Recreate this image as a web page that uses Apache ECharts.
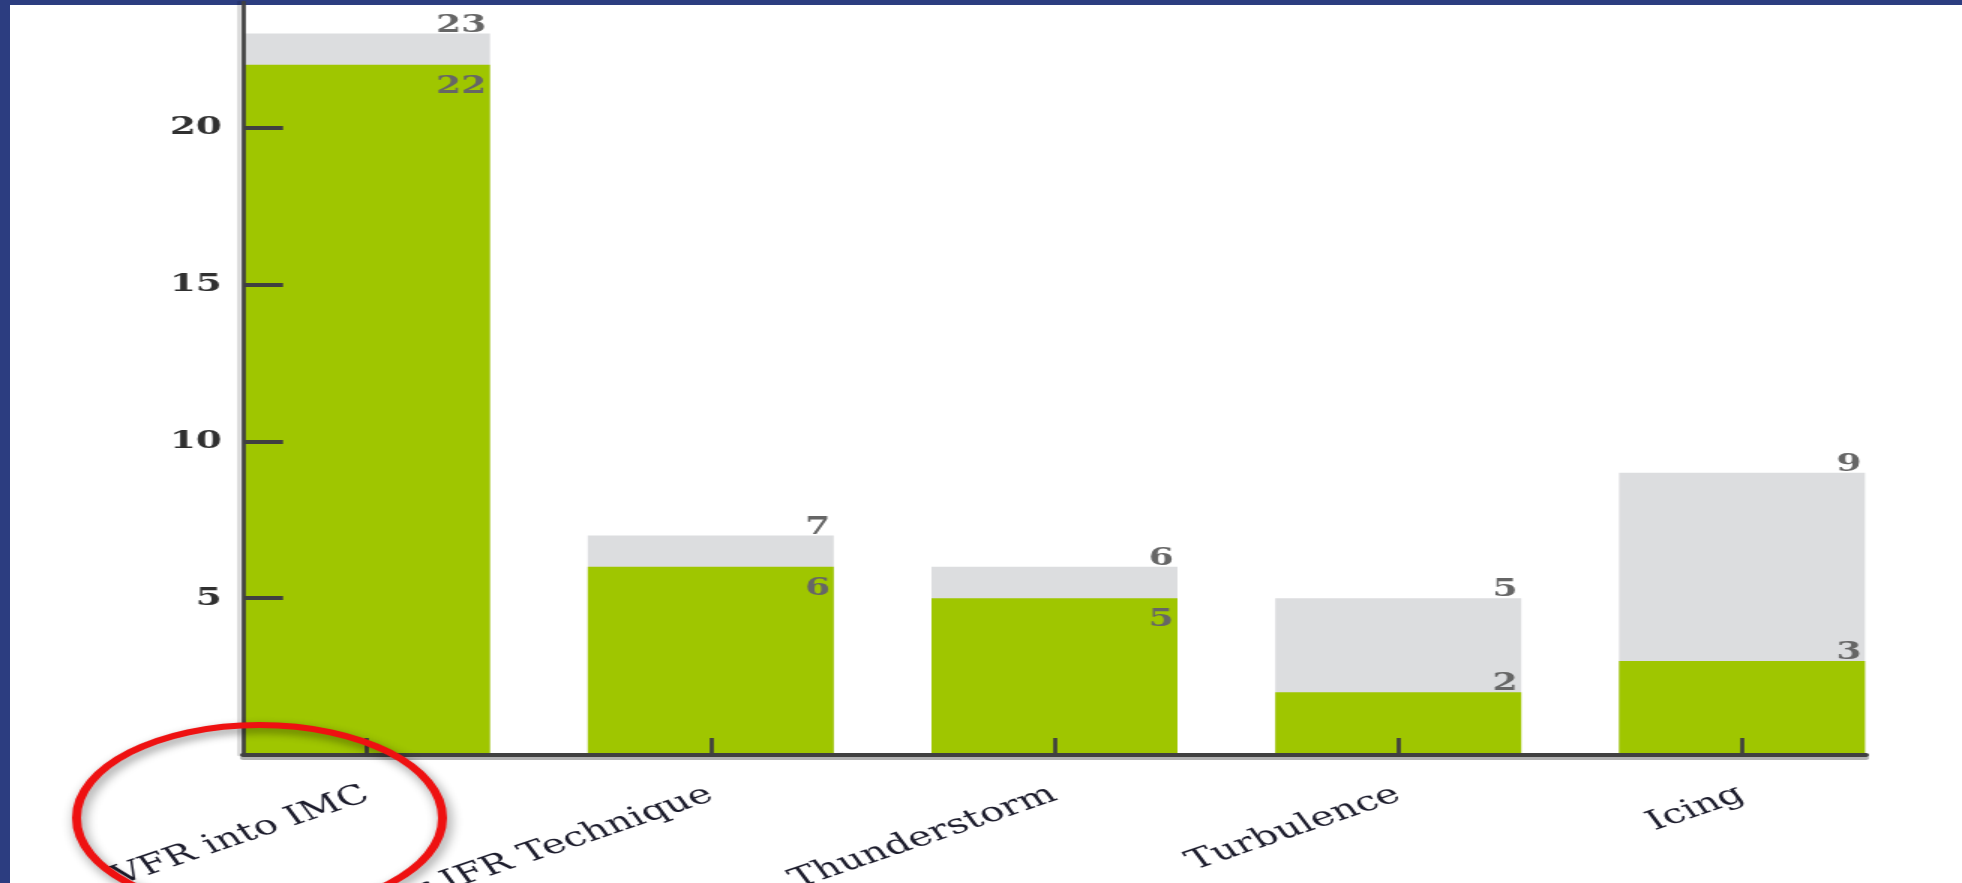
<!DOCTYPE html>
<html>
<head>
<meta charset="utf-8">
<script src="https://cdn.jsdelivr.net/npm/echarts@6/dist/echarts.min.js"></script>
<style>
  html, body { margin: 0; padding: 0; width: 1962px; height: 883px; overflow: hidden; background: #2c3d80; }
  #panel { position: absolute; left: 10px; top: 5px; right: 0; bottom: 0; background: #ffffff; }
  #chart { position: absolute; left: 0; top: 0; width: 1308px; height: 883px; transform: scaleX(1.5); transform-origin: 0 0; }
</style>
</head>
<body>
<div id="panel"></div>
<div id="chart"></div>
<script>
// ---- data ----
const categories = ['VFR into IMC', 'Poor IFR Technique', 'Thunderstorm', 'Turbulence', 'Icing'];
const totals = [23, 7, 6, 5, 9];
const subset = [22, 6, 5, 2, 3];
const yTickValues = [5, 10, 15, 20];
const xTickValues = [0, 1, 2, 3, 4];

// ---- build ----
const digitFont = { fontFamily: 'DejaVu Serif', fontWeight: 'bold', fontSize: 24 };

const grayData = totals.map((v, i) => [i, v]);
const greenData = subset.map((v, i) => {
  const above = v * 2 < totals[i];
  return {
    value: [i, v],
    label: above
      ? { verticalAlign: 'bottom', offset: [-2.5, 4] }
      : { verticalAlign: 'top', offset: [-2.5, 10] }
  };
});

const chart = echarts.init(document.getElementById('chart'), null, { renderer: 'canvas' });
chart.setOption({
  backgroundColor: 'transparent',
  animation: false,
  grid: { left: 162, right: 64, top: 2, bottom: 128, containLabel: false, outerBoundsMode: 'none' },
  xAxis: {
    type: 'value',
    min: -0.3607,
    max: 4.3607,
    z: 10,
    splitLine: { show: false },
    axisLine: { show: true, onZero: false, lineStyle: { color: '#404040', width: 4, shadowColor: 'rgba(0,0,0,0.3)', shadowOffsetY: 3 } },
    axisTick: { show: true, inside: true, length: 17, customValues: xTickValues, lineStyle: { color: '#404040', width: 2.7 } },
    axisLabel: {
      customValues: xTickValues,
      formatter: v => categories[Math.round(v)] || '',
      rotate: 27,
      margin: 38,
      color: '#1c1c2c',
      fontFamily: 'DejaVu Serif',
      fontSize: 27
    }
  },
  yAxis: {
    type: 'value',
    min: 0,
    max: 24,
    z: 10,
    splitLine: { show: false },
    axisLine: { show: true, onZero: false, lineStyle: { color: '#404040', width: 2.7, shadowColor: 'rgba(0,0,0,0.15)', shadowOffsetX: -3 } },
    axisTick: { show: true, inside: true, length: 26.7, customValues: yTickValues, lineStyle: { color: '#404040', width: 4 } },
    axisLabel: Object.assign({ customValues: yTickValues, margin: 14, color: '#303030' }, digitFont, { fontSize: 25 })
  },
  series: [
    {
      type: 'bar',
      data: grayData,
      barWidth: 164,
      barGap: '-100%',
      itemStyle: { color: '#dcdddf' },
      label: Object.assign({ show: true, position: ['100%', 0], align: 'right', verticalAlign: 'bottom', offset: [-2.5, 4], color: '#666666' }, digitFont)
    },
    {
      type: 'bar',
      data: greenData,
      barWidth: 164,
      barGap: '-100%',
      itemStyle: { color: '#9fc600' },
      label: Object.assign({ show: true, position: ['100%', 0], align: 'right', color: '#666666' }, digitFont)
    }
  ],
  graphic: [
    {
      type: 'ellipse',
      z: 100,
      shape: { cx: 173, cy: 818, rx: 122, ry: 93 },
      style: {
        fill: 'none',
        stroke: '#ee1111',
        lineWidth: 6,
        shadowBlur: 8,
        shadowColor: 'rgba(0,0,0,0.45)',
        shadowOffsetX: 2,
        shadowOffsetY: 4
      }
    }
  ]
});
</script>
</body>
</html>
